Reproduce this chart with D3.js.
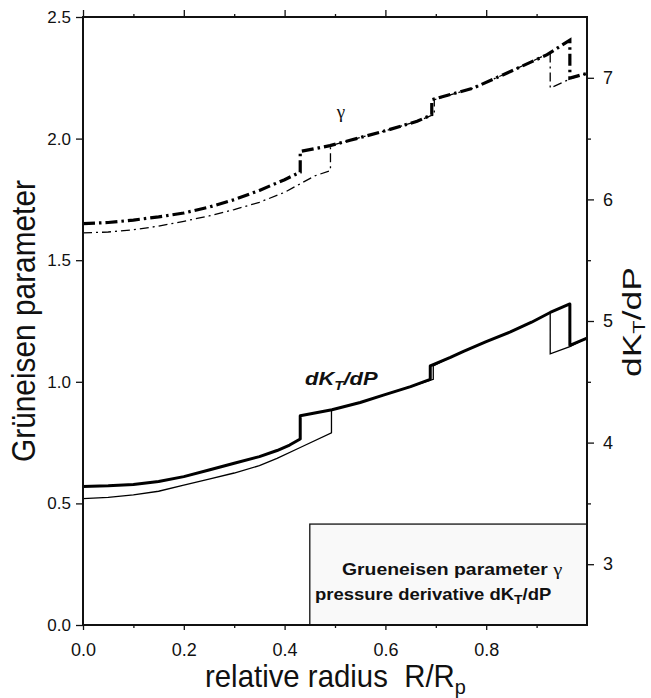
<!DOCTYPE html>
<html><head><meta charset="utf-8">
<script src="https://cdn.jsdelivr.net/npm/d3@7"></script>
<style>
html,body{margin:0;padding:0;background:#fff;}
svg{display:block;}
text{font-family:"Liberation Sans",Arial,Helvetica,sans-serif;fill:#111;}
</style></head>
<body>
<svg id="chart" width="651" height="698"></svg>
<script>
// ---------- data ----------
const xMajorTicks = [0, 0.2, 0.4, 0.6, 0.8];
const xMinorTicks = [0.1, 0.3, 0.5, 0.7, 0.9];
const gammaTicks = [0, 0.5, 1.0, 1.5, 2.0, 2.5];
const dkMajorTicks = [3, 4, 5, 6, 7];
const dkMinorTicks = [3.5, 4.5, 5.5, 6.5];

// Grueneisen parameter (left axis), [relative radius, gamma]
const gammaThick = [[0,1.650],[0.05,1.655],[0.1,1.665],[0.15,1.678],[0.2,1.694],[0.25,1.718],[0.3,1.749],[0.35,1.787],[0.4,1.831],[0.431,1.862],[0.431,1.947],[0.49,1.971],[0.53,1.993],[0.596,2.030],[0.663,2.071],[0.692,2.098],[0.692,2.160],[0.775,2.208],[0.848,2.276],[0.921,2.345],[0.966,2.405],[0.966,2.249],[1.0,2.268]];
const gammaThin = [[0,1.612],[0.05,1.616],[0.1,1.625],[0.15,1.640],[0.2,1.660],[0.25,1.682],[0.3,1.708],[0.35,1.738],[0.4,1.779],[0.46,1.847],[0.491,1.868],[0.491,1.971],[0.53,1.993],[0.596,2.030],[0.663,2.071],[0.697,2.100],[0.697,2.160],[0.775,2.208],[0.848,2.276],[0.927,2.353],[0.927,2.208],[0.966,2.245],[1.0,2.268]];

// pressure derivative dK_T/dP (right axis), [relative radius, dK/dP]
const dkThick = [[0,3.64],[0.05,3.645],[0.1,3.655],[0.15,3.68],[0.2,3.72],[0.25,3.775],[0.3,3.83],[0.35,3.885],[0.385,3.935],[0.41,3.98],[0.431,4.03],[0.431,4.22],[0.494,4.27],[0.55,4.33],[0.596,4.39],[0.65,4.46],[0.689,4.52],[0.689,4.63],[0.729,4.70],[0.755,4.75],[0.8,4.83],[0.848,4.91],[0.89,4.99],[0.927,5.07],[0.966,5.14],[0.966,4.80],[1.0,4.86]];
const dkThin = [[0,3.54],[0.05,3.55],[0.1,3.57],[0.15,3.60],[0.2,3.65],[0.25,3.70],[0.3,3.75],[0.35,3.81],[0.385,3.87],[0.431,3.96],[0.493,4.08],[0.493,4.27],[0.55,4.33],[0.596,4.39],[0.65,4.46],[0.695,4.52],[0.695,4.63],[0.729,4.70],[0.755,4.75],[0.8,4.83],[0.848,4.91],[0.89,4.99],[0.927,5.07],[0.927,4.73],[0.966,4.79],[1.0,4.86]];

const legendLines = ["Grueneisen parameter ", "pressure derivative dK"];

// ---------- layout ----------
const L = 83, R = 587, T = 17, B = 625;
const svg = d3.select("#chart");
const x = d3.scaleLinear().domain([0, 1]).range([L, R]);
const yG = d3.scaleLinear().domain([0, 2.5]).range([B, T]);
const yK = d3.scaleLinear().domain([2.5, 7.5]).range([B, T]);

function styleAxis(g, fs) {
  g.select(".domain").remove();
  g.selectAll(".tick line").attr("stroke", "#111").attr("stroke-width", 1.3);
  g.selectAll(".tick text").style("font-family", '"Liberation Sans",Arial,sans-serif').style("font-size", fs + "px").attr("fill", "#111");
}
const fmt = d3.format(".1f");

// legend box
svg.append("rect").attr("x", x(0.45)).attr("y", yG(0.415)).attr("width", R - x(0.45)).attr("height", B - yG(0.415))
  .attr("fill", "#f9f9f9").attr("stroke", "#111").attr("stroke-width", 1.3);

// axes
const gl = svg.append("g").attr("transform", `translate(${L},0)`)
  .call(d3.axisLeft(yG).tickValues(gammaTicks).tickFormat(fmt).tickSize(7).tickPadding(5));
styleAxis(gl, 17);
const gb = svg.append("g").attr("transform", `translate(0,${B})`)
  .call(d3.axisBottom(x).tickValues(xMajorTicks).tickFormat(fmt).tickSize(5).tickPadding(13));
styleAxis(gb, 18);
const gbm = svg.append("g").attr("transform", `translate(0,${B})`)
  .call(d3.axisBottom(x).tickValues(xMinorTicks).tickFormat("").tickSize(3));
styleAxis(gbm, 17);
const gt = svg.append("g").attr("transform", `translate(0,${T})`)
  .call(d3.axisTop(x).tickValues(xMajorTicks).tickFormat("").tickSize(7));
styleAxis(gt, 17);
const gtm = svg.append("g").attr("transform", `translate(0,${T})`)
  .call(d3.axisTop(x).tickValues(xMinorTicks).tickFormat("").tickSize(3));
styleAxis(gtm, 17);
const gr = svg.append("g").attr("transform", `translate(${R},0)`)
  .call(d3.axisRight(yK).tickValues(dkMajorTicks).tickFormat(d3.format("d")).tickSize(7).tickPadding(9));
styleAxis(gr, 18);
const grm = svg.append("g").attr("transform", `translate(${R},0)`)
  .call(d3.axisRight(yK).tickValues(dkMinorTicks).tickFormat("").tickSize(4));
styleAxis(grm, 17);

// clip
svg.append("clipPath").attr("id", "plotclip").append("rect").attr("x", L).attr("y", T).attr("width", R - L).attr("height", B - T);
const plot = svg.append("g").attr("clip-path", "url(#plotclip)");

const lineG = d3.line().x(d => x(d[0])).y(d => yG(d[1]));
const lineK = d3.line().x(d => x(d[0])).y(d => yK(d[1]));

plot.append("path").datum(dkThick).attr("d", lineK).attr("fill", "none").attr("stroke", "#000").attr("stroke-width", 3).attr("stroke-linejoin", "round");
plot.append("path").datum(dkThin).attr("d", lineK).attr("fill", "none").attr("stroke", "#000").attr("stroke-width", 1.3);
plot.append("path").datum(gammaThick).attr("d", lineG).attr("fill", "none").attr("stroke", "#000").attr("stroke-width", 3.2).attr("stroke-dasharray", "12,4,2.5,4");
plot.append("path").datum(gammaThin).attr("d", lineG).attr("fill", "none").attr("stroke", "#000").attr("stroke-width", 1.3).attr("stroke-dasharray", "9,4,2,4");

// frame
svg.append("rect").attr("x", L).attr("y", T).attr("width", R - L).attr("height", B - T)
  .attr("fill", "none").attr("stroke", "#111").attr("stroke-width", 2);

// helper: scale text along its direction to a target length
function fitWidth(textSel, target) {
  const w = textSel.node().getBBox().width;
  if (w > 0) textSel.attr("transform", `scale(${target / w},1)`);
}

// axis titles
{
  const g = svg.append("g").attr("transform", `translate(35,462) rotate(-90)`);
  const t = g.append("text").attr("x", 0).attr("y", 0).style("font-size", "33px").text("Grüneisen parameter");
  fitWidth(t, 282);
}
{
  const g = svg.append("g").attr("transform", `translate(641,377) rotate(-90)`);
  const t = g.append("text").attr("x", 0).attr("y", 0).style("font-size", "26px");
  t.append("tspan").text("dK");
  t.append("tspan").attr("dy", 4).style("font-size", "16px").text("T");
  t.append("tspan").attr("dy", -4).text("/dP");
  fitWidth(t, 110);
}
{
  const g = svg.append("g").attr("transform", `translate(205,687)`);
  const t = g.append("text").attr("x", 0).attr("y", 0).style("font-size", "31px");
  t.append("tspan").text("relative radius\u00a0\u00a0R/R");
  t.append("tspan").attr("dy", 7).style("font-size", "21px").text("p");
  fitWidth(t, 261);
}

// annotations
svg.append("text").attr("x", 341).attr("y", 118).attr("text-anchor", "middle")
  .style("font-family", '"Liberation Serif","Times New Roman",serif').style("font-size", "19px").text("γ");
{
  const g = svg.append("g").attr("transform", `translate(305,385)`);
  const t = g.append("text").style("font-size", "19px").style("font-weight", "bold").style("font-style", "italic");
  t.append("tspan").text("dK");
  t.append("tspan").attr("dy", 5).style("font-size", "13px").text("T");
  t.append("tspan").attr("dy", -5).text("/dP");
  fitWidth(t, 73);
}

// legend text
{
  const g = svg.append("g").attr("transform", `translate(342,575)`);
  const t = g.append("text").style("font-size", "16px").style("font-weight", "bold");
  t.append("tspan").text(legendLines[0]);
  t.append("tspan").style("font-weight", "normal").style("font-family", '"Liberation Serif","Times New Roman",serif').style("font-size", "17px").text("γ");
  fitWidth(t, 221);
}
{
  const g = svg.append("g").attr("transform", `translate(315,600)`);
  const t = g.append("text").style("font-size", "16px").style("font-weight", "bold");
  t.append("tspan").text(legendLines[1]);
  t.append("tspan").attr("dy", 4).style("font-size", "12px").text("T");
  t.append("tspan").attr("dy", -4).text("/dP");
  fitWidth(t, 237);
}
</script>
</body></html>
